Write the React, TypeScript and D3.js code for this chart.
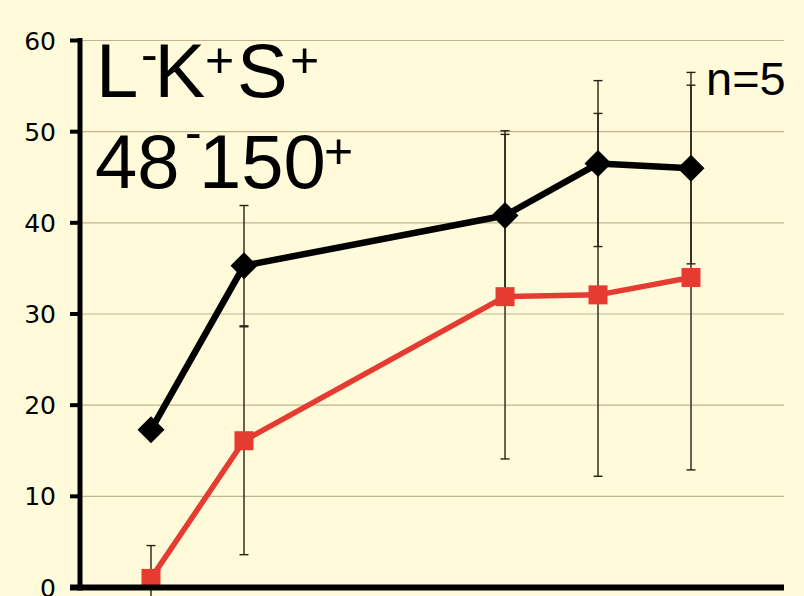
import React from "react";
import * as d3 from "d3";

// Time points (days, plotted on a log axis)
const days = [1, 2, 14, 28, 56];
// Black series (diamonds)
const blackMean = [17.3, 35.3, 40.8, 46.5, 46.0];
const blackSD = [0.4, 6.6, 9.3, 9.1, 10.5];
// Red series (squares)
const redMean = [1.0, 16.1, 31.9, 32.1, 34.0];
const redSD = [3.6, 12.5, 17.8, 19.9, 21.1];
// Y ticks
const yTicks = [0, 10, 20, 30, 40, 50, 60];

const W = 804;
const H = 596;
const BG = "#FFFBDA";
const RED = "#E63B30";

export default function App() {
  const plotLeft = 80;
  const plotRight = 784;
  const x = d3.scaleLog().domain([1, 56]).range([151, 691]);
  const y = d3.scaleLinear().domain([0, 60]).range([587.5, 40.5]);

  const line = d3
    .line<number>()
    .x((_, i) => x(days[i]))
    .y((d) => y(d));

  const diamond = (cx: number, cy: number, r: number) =>
    `M${cx},${cy - r}L${cx + r},${cy}L${cx},${cy + r}L${cx - r},${cy}Z`;

  const errBars = (means: number[], sds: number[], key: string) =>
    means.map((m, i) => {
      const cx = x(days[i]);
      const top = y(m + sds[i]);
      const bot = y(m - sds[i]);
      return (
        <g key={key + i} stroke="#2a1f12" strokeWidth={1.4}>
          <line x1={cx} x2={cx} y1={top} y2={bot} />
          <line x1={cx - 4.5} x2={cx + 4.5} y1={top} y2={top} />
          <line x1={cx - 4.5} x2={cx + 4.5} y1={bot} y2={bot} />
        </g>
      );
    });

  return (
    <svg
      width={W}
      height={H}
      style={{ position: "absolute", left: 0, top: 0, background: BG }}
      fontFamily="'Liberation Sans', Arial, sans-serif"
    >
      <rect x={0} y={0} width={W} height={H} fill={BG} />
      {/* gridlines */}
      {yTicks
        .filter((t) => t > 0)
        .map((t) => (
          <line
            key={"g" + t}
            x1={plotLeft}
            x2={plotRight}
            y1={y(t)}
            y2={y(t)}
            stroke="#C2B48F"
            strokeWidth={1.2}
          />
        ))}
      {/* error bars */}
      {errBars(blackMean, blackSD, "b")}
      {errBars(redMean, redSD, "r")}
      {/* lines */}
      <path d={line(blackMean) || ""} fill="none" stroke="#000" strokeWidth={6.5} strokeLinejoin="round" />
      <path d={line(redMean) || ""} fill="none" stroke={RED} strokeWidth={5.5} strokeLinejoin="round" />
      {/* markers */}
      {blackMean.map((m, i) => (
        <path key={"bd" + i} d={diamond(x(days[i]), y(m), 13.5)} fill="#000" />
      ))}
      {redMean.map((m, i) => (
        <rect
          key={"rs" + i}
          x={x(days[i]) - 9.5}
          y={y(m) - 9.5}
          width={19}
          height={19}
          fill={RED}
        />
      ))}
      {/* axes */}
      <line x1={plotLeft} x2={plotLeft} y1={38} y2={590.5} stroke="#000" strokeWidth={5} />
      <line x1={70} x2={plotRight} y1={587.5} y2={587.5} stroke="#000" strokeWidth={6} />
      {yTicks.map((t) => (
        <g key={"t" + t}>
          <line x1={70} x2={plotLeft} y1={y(t)} y2={y(t)} stroke="#000" strokeWidth={4} />
          <text
            x={56}
            y={y(t)}
            dy="0.36em"
            textAnchor="end"
            fontFamily="'DejaVu Sans', Verdana, sans-serif"
            fontSize={25}
            fill="#000"
          >
            {t}
          </text>
        </g>
      ))}
      {/* title annotations */}
      <text y={97} fontSize={76} fill="#000">
        <tspan x={96}>L</tspan>
        <tspan x={141} y={71} fontSize={50}>-</tspan>
        <tspan x={154.5} y={97}>K</tspan>
        <tspan x={205} y={77} fontSize={50}>+</tspan>
        <tspan x={237} y={97}>S</tspan>
        <tspan x={290} y={77} fontSize={50}>+</tspan>
      </text>
      <text y={188} fontSize={76} fill="#000">
        <tspan x={95}>48</tspan>
        <tspan x={185} y={149} fontSize={50}>-</tspan>
        <tspan x={199} y={188}>150</tspan>
        <tspan x={324} y={168} fontSize={50}>+</tspan>
      </text>
      <text x={706} y={95} fontSize={47} fill="#000">
        n=5
      </text>
    </svg>
  );
}
